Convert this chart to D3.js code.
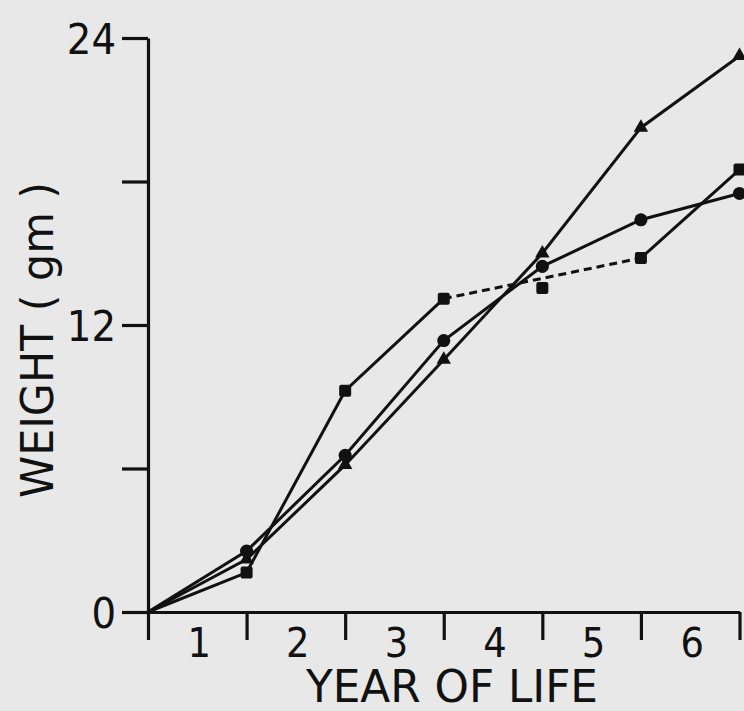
<!DOCTYPE html>
<html>
<head>
<meta charset="utf-8">
<script src="https://cdn.jsdelivr.net/npm/d3@7"></script>
<style>
  html, body { margin: 0; padding: 0; background: #e8e8e8; }
  svg { display: block; }
  text { font-family: "DejaVu Sans Condensed", "DejaVu Sans", sans-serif; fill: #111; }
</style>
</head>
<body>
<script>
// Year of life (x) and body weight in grams (y) for three groups
const years = [0, 1, 2, 3, 4, 5, 6];
const triangleWeights = [0, 2.2, 6.15, 10.55, 15.0, 20.25, 23.25];
const circleWeights   = [0, 2.55, 6.55, 11.35, 14.45, 16.4, 17.5];
// Square group: year 4 value is plotted on its own; the line bridges 3 -> 5 with a dashed segment
const squareWeights   = [0, 1.65, 9.25, 13.1, 13.55, 14.8, 18.5];
const squareSolidYears = [[0, 1, 2, 3], [5, 6]];
const squareDashedYears = [3, 5];

const yTickValues = [0, 6, 12, 18, 24];
const yTickLabels = ["0", "", "12", "", "24"];
const xTickValues = [0, 1, 2, 3, 4, 5, 6];
const yearLabels = ["1", "2", "3", "4", "5", "6"];

const W = 744, H = 711;
const svg = d3.select("body").append("svg").attr("width", W).attr("height", H);

const x = d3.scaleLinear().domain([0, 6]).range([148, 739.5]);
const y = d3.scaleLinear().domain([0, 24]).range([612, 38]);

// Y axis
const yAxis = svg.append("g").attr("transform", `translate(${x(0)},0)`)
  .call(d3.axisLeft(y).tickValues(yTickValues).tickSize(26).tickSizeOuter(0)
    .tickPadding(6).tickFormat((d, i) => yTickLabels[i]));
yAxis.select(".domain").attr("stroke", "#111").attr("stroke-width", 3.2);
yAxis.selectAll(".tick line").attr("stroke", "#111").attr("stroke-width", 3.2);
yAxis.selectAll(".tick text").attr("font-size", 43).attr("dy", "0.36em")
  .style("font-family", "'DejaVu Sans Condensed', 'DejaVu Sans', sans-serif").attr("fill", "#111");

// X axis
const xAxis = svg.append("g").attr("transform", `translate(0,${y(0)})`)
  .call(d3.axisBottom(x).tickValues(xTickValues).tickSize(28).tickSizeOuter(0).tickFormat(""));
xAxis.select(".domain").attr("stroke", "#111").attr("stroke-width", 3.2);
xAxis.selectAll(".tick line").attr("stroke", "#111").attr("stroke-width", 3.2);

// Year labels centred within each year interval
svg.append("g").selectAll("text").data(yearLabels).join("text")
  .attr("x", (d, i) => x(i + 0.52))
  .attr("y", 657)
  .attr("text-anchor", "middle")
  .attr("font-size", 41)
  .text(d => d);

// Axis titles
svg.append("text")
  .attr("x", 452).attr("y", 702)
  .attr("text-anchor", "middle")
  .attr("font-size", 44)
  .attr("textLength", 292).attr("lengthAdjust", "spacingAndGlyphs")
  .text("YEAR OF LIFE");

svg.append("text")
  .attr("transform", "translate(53,340) rotate(-90)")
  .attr("text-anchor", "middle")
  .attr("font-size", 45)
  .attr("textLength", 316).attr("lengthAdjust", "spacingAndGlyphs")
  .text("WEIGHT ( gm )");

const line = d3.line().x(d => x(d[0])).y(d => y(d[1]));
const plot = svg.append("g");

function drawLine(pts, dashed) {
  plot.append("path").datum(pts)
    .attr("d", line)
    .attr("fill", "none")
    .attr("stroke", "#111")
    .attr("stroke-width", 3)
    .attr("stroke-dasharray", dashed ? "8,5" : null);
}

drawLine(years.map((yr, i) => [yr, triangleWeights[i]]));
drawLine(years.map((yr, i) => [yr, circleWeights[i]]));
squareSolidYears.forEach(seg => drawLine(seg.map(yr => [yr, squareWeights[yr]])));
drawLine(squareDashedYears.map(yr => [yr, squareWeights[yr]]), true);

// Markers (the origin point is shared and carries no marker)
const tri = d3.symbol().type(d3.symbolTriangle).size(90);
const circ = d3.symbol().type(d3.symbolCircle).size(135);

plot.append("g").selectAll("path").data(years.slice(1)).join("path")
  .attr("d", tri)
  .attr("transform", yr => `translate(${x(yr)},${y(triangleWeights[yr])})`)
  .attr("fill", "#111");

plot.append("g").selectAll("path").data(years.slice(1)).join("path")
  .attr("d", circ)
  .attr("transform", yr => `translate(${x(yr)},${y(circleWeights[yr])})`)
  .attr("fill", "#111");

plot.append("g").selectAll("rect").data(years.slice(1)).join("rect")
  .attr("x", yr => x(yr) - 6)
  .attr("y", yr => y(squareWeights[yr]) - 6)
  .attr("width", 12).attr("height", 12)
  .attr("rx", 2)
  .attr("fill", "#111");
</script>
</body>
</html>
